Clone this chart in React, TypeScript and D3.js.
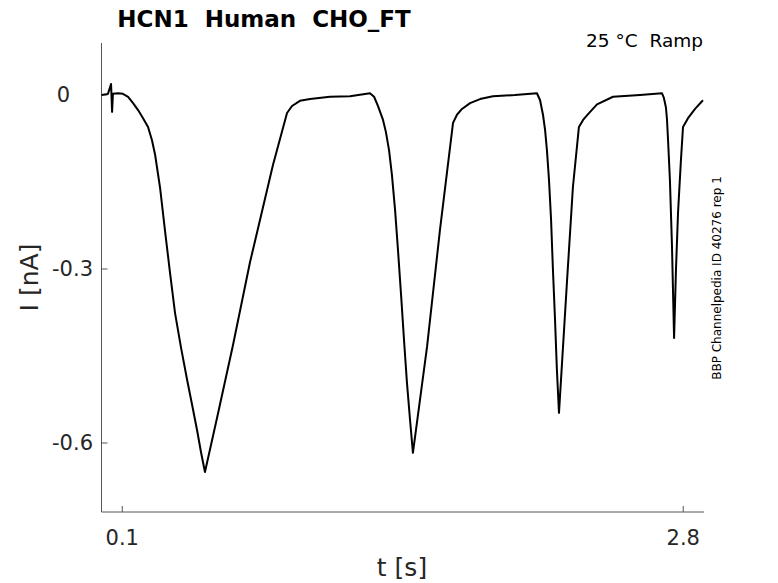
import React from 'react';
import * as d3 from 'd3';

// trace (t in s, I in nA)
const timeS = [
  0, 0.031, 0.046, 0.051, 0.055, 0.079, 0.103, 0.128, 0.152, 0.176, 0.2, 0.224, 0.243, 0.258,
  0.282, 0.306, 0.33, 0.354, 0.383, 0.412, 0.436, 0.46, 0.479, 0.498, 0.556, 0.633, 0.715,
  0.825, 0.893, 0.917, 0.955, 1.004, 1.1, 1.196, 1.292, 1.312, 1.331, 1.355, 1.369, 1.384,
  1.398, 1.413, 1.427, 1.442, 1.456, 1.47, 1.485, 1.499, 1.567, 1.629, 1.692, 1.711, 1.735,
  1.774, 1.822, 1.884, 1.99, 2.096, 2.111, 2.125, 2.135, 2.144, 2.154, 2.164, 2.173, 2.183,
  2.192, 2.202, 2.241, 2.269, 2.298, 2.318, 2.342, 2.385, 2.462, 2.592, 2.698, 2.707, 2.717,
  2.722, 2.727, 2.736, 2.746, 2.756, 2.765, 2.775, 2.789, 2.799, 2.823, 2.857, 2.895,
];
const currentNA = [
  0, 0.002, 0.019, -0.029, 0.002, 0.003, 0.002, -0.003, -0.014, -0.026, -0.04, -0.055, -0.078,
  -0.103, -0.16, -0.235, -0.307, -0.376, -0.436, -0.491, -0.534, -0.578, -0.616, -0.65,
  -0.557, -0.431, -0.288, -0.121, -0.031, -0.019, -0.01, -0.007, -0.003, -0.002, 0.003,
  -0.003, -0.019, -0.043, -0.064, -0.095, -0.138, -0.198, -0.267, -0.345, -0.422, -0.495,
  -0.56, -0.617, -0.434, -0.233, -0.048, -0.034, -0.024, -0.014, -0.007, -0.002, 0, 0.003,
  -0.009, -0.034, -0.06, -0.095, -0.147, -0.216, -0.302, -0.388, -0.474, -0.548, -0.319,
  -0.159, -0.055, -0.043, -0.033, -0.016, -0.003, 0, 0.003, -0.005, -0.022, -0.043, -0.078,
  -0.147, -0.262, -0.419, -0.302, -0.203, -0.112, -0.055, -0.04, -0.024, -0.009,
];

const xTicks = [0.1, 2.8];
const xTickLabels = ['0.1', '2.8'];
const yTicks = [0, -0.3, -0.6];
const yTickLabels = ['0', '-0.3', '-0.6'];

const title = 'HCN1  Human  CHO_FT';
const subtitle = '25 °C  Ramp';
const sideNote = 'BBP Channelpedia ID 40276 rep 1';

const W = 778;
const H = 583;
const margin = { top: 43, right: 74, bottom: 71, left: 101.5 };
const font = "'DejaVu Sans', sans-serif";

export default function App() {
  const x = d3.scaleLinear().domain([0, 2.9]).range([margin.left, W - margin.right]);
  const y = d3.scaleLinear().domain([-0.719, 0.0897]).range([H - margin.bottom, margin.top]);

  const pts = timeS.map((t, i) => [t, currentNA[i]] as [number, number]);
  const line = d3.line<[number, number]>().x(d => x(d[0])).y(d => y(d[1]));

  const x0 = margin.left;
  const y0 = H - margin.bottom;
  const axisColor = '#555';
  const textColor = '#262626';
  const pre = { whiteSpace: 'pre' as const };

  return (
    <svg width={W} height={H} style={{ position: 'absolute', left: 0, top: 0, background: '#fff' }}>
      {/* axes */}
      <line x1={x0} x2={W - margin.right} y1={y0} y2={y0} stroke={axisColor} strokeWidth={1} />
      <line x1={x0} x2={x0} y1={margin.top} y2={y0} stroke={axisColor} strokeWidth={1} />
      {xTicks.map((t, i) => (
        <g key={'xt' + i}>
          <line x1={x(t)} x2={x(t)} y1={y0} y2={y0 - 6} stroke={axisColor} />
          <text x={x(t)} y={545} textAnchor="middle" fontFamily={font} fontSize={21} fill={textColor}>
            {xTickLabels[i]}
          </text>
        </g>
      ))}
      {yTicks.map((v, i) => (
        <g key={'yt' + i}>
          <line x1={x0} x2={x0 + 6} y1={y(v)} y2={y(v)} stroke={axisColor} />
          <text
            x={v === 0 ? 70 : 93}
            y={y(v)}
            dy="0.35em"
            textAnchor="end"
            fontFamily={font}
            fontSize={21}
            fill={textColor}
          >
            {yTickLabels[i]}
          </text>
        </g>
      ))}

      {/* trace */}
      <path d={line(pts) || ''} fill="none" stroke="#000" strokeWidth={2} strokeLinejoin="round" />

      {/* labels */}
      <text x={264} y={27} textAnchor="middle" fontFamily={font} fontSize={23} fontWeight="bold" fill="#000" style={pre}>
        {title}
      </text>
      <text x={703} y={47} textAnchor="end" fontFamily={font} fontSize={18.5} fill="#000" style={pre}>
        {subtitle}
      </text>
      <text x={402} y={576} textAnchor="middle" fontFamily={font} fontSize={25} fill={textColor}>
        t [s]
      </text>
      <text
        transform={`translate(38,${(margin.top + y0) / 2}) rotate(-90)`}
        textAnchor="middle"
        fontFamily={font}
        fontSize={25}
        fill={textColor}
      >
        I [nA]
      </text>
      <text
        transform={`translate(721,278) rotate(-90)`}
        textAnchor="middle"
        fontFamily={font}
        fontSize={12}
        fill="#000"
      >
        {sideNote}
      </text>
    </svg>
  );
}
